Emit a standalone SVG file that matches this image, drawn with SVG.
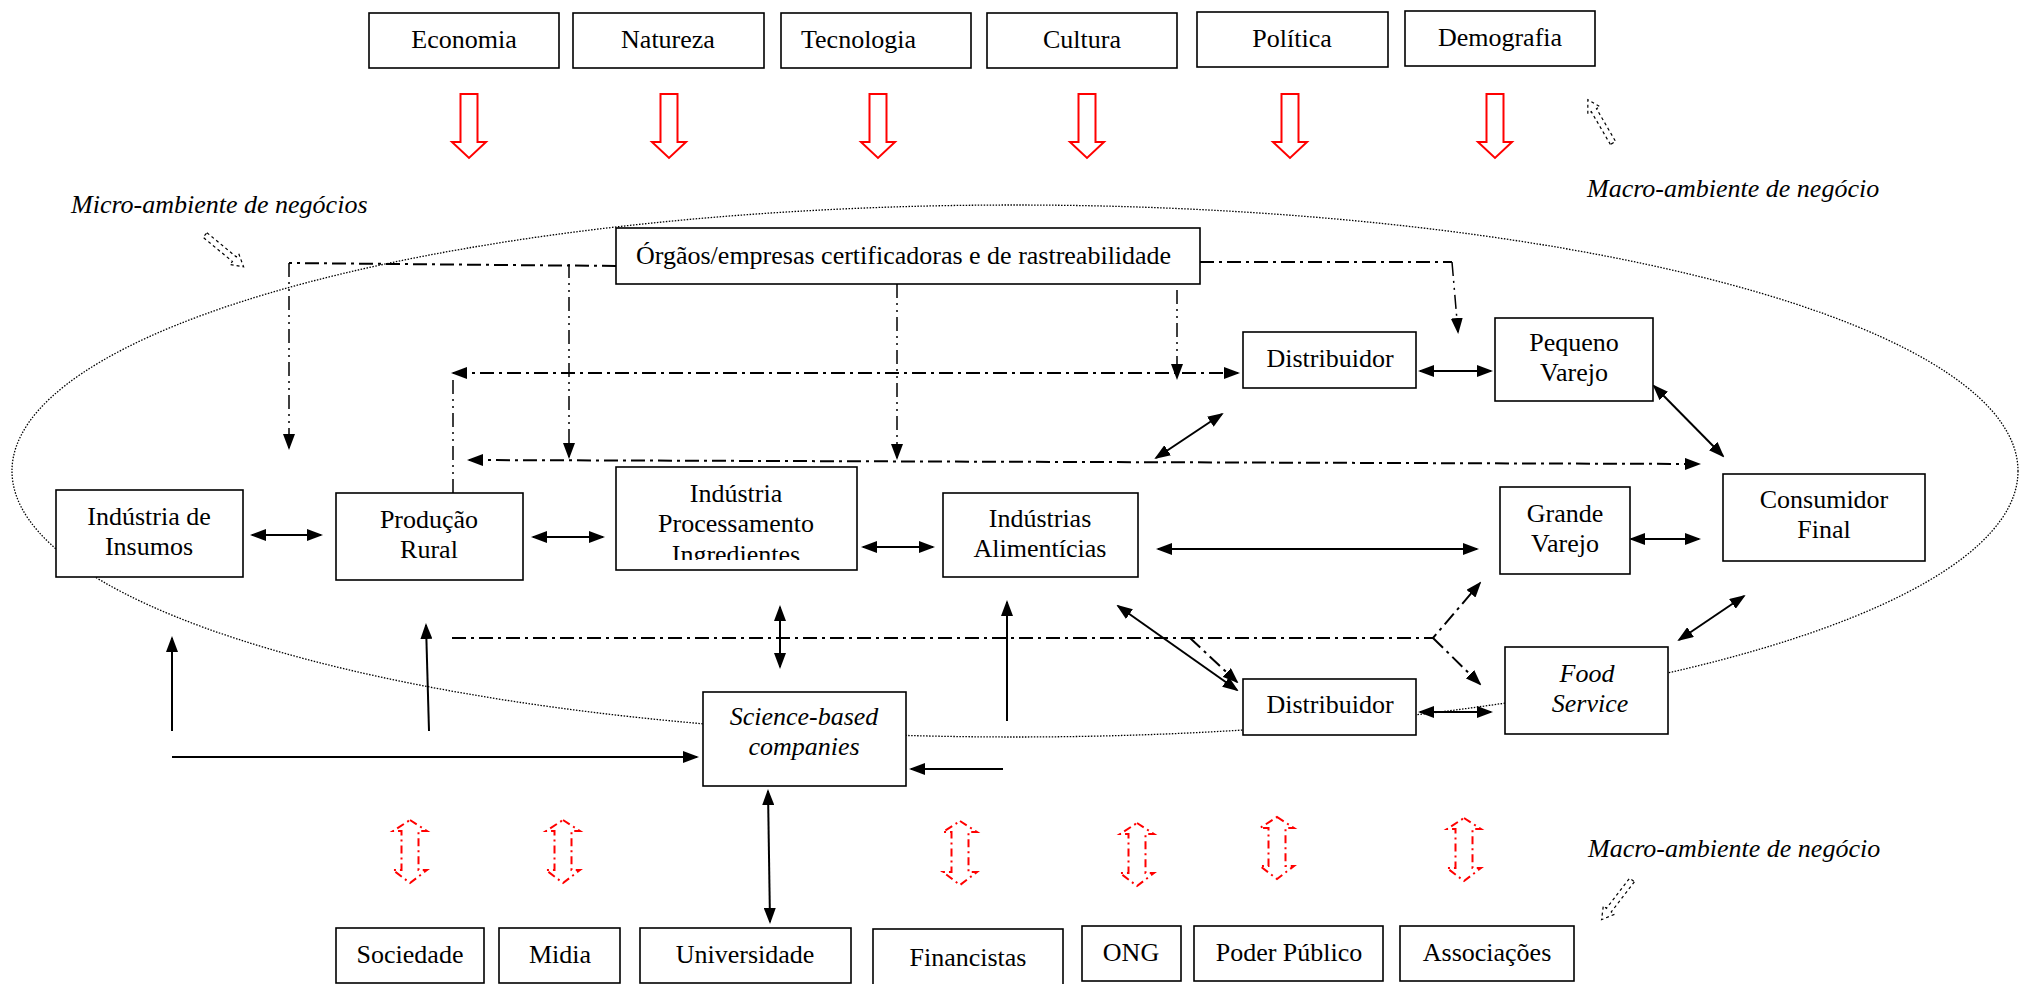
<svg xmlns="http://www.w3.org/2000/svg" width="2033" height="984" viewBox="0 0 2033 984">
  <style>
    text { font-family: "Liberation Serif", "Times New Roman", serif; font-size: 26px; fill: #000; }
    .c { text-anchor: middle; }
    .it { font-style: italic; }
    .box { fill: #fff; stroke: #000; stroke-width: 1.6; }
    .solid { fill: none; stroke: #000; stroke-width: 2; }
    .dd { fill: none; stroke: #000; stroke-width: 2; stroke-dasharray: 14 5 3 5; }
    .dv { fill: none; stroke: #000; stroke-width: 1.5; stroke-dasharray: 14 5 2 5 2 5; }
    .env { fill: none; stroke: #000; stroke-width: 1.3; stroke-dasharray: 1.5 1.5; }
    .force { fill: none; stroke: #f00; stroke-width: 2; }
    .inter { fill: none; stroke: #f00; stroke-width: 2; stroke-dasharray: 8 4 2 4; }
    .hint { fill: none; stroke: #000; stroke-width: 1.2; stroke-dasharray: 3 3; }
  </style>
  <defs>
    <marker id="ah" viewBox="0 0 16 12" refX="14" refY="6" markerWidth="16" markerHeight="12" markerUnits="userSpaceOnUse" orient="auto-start-reverse">
      <path d="M0,0 L16,6 L0,12 z" fill="#000"/>
    </marker>
    <clipPath id="clipProc">
      <rect x="617" y="468" width="239" height="92"/>
    </clipPath>
    <!-- hollow outline arrow pointing down, centred on x=0 -->
    <polygon id="downArrow" points="-8.5,94 8.5,94 8.5,142 17,142 0,158 -17,142 -8.5,142"/>
    <!-- small hollow pointer arrow along +x -->
    <polygon id="pointer" points="0,-3 38,-3 38,-7 50,0 38,7 38,3 0,3"/>
  </defs>

  <!-- business environment boundary -->
  <ellipse class="env" cx="1015" cy="471" rx="1003" ry="266"/>

  <!-- environment labels -->
  <text class="it" x="71" y="213">Micro-ambiente de negócios</text>
  <text class="it" x="1587" y="197">Macro-ambiente de negócio</text>
  <text class="it" x="1588" y="857">Macro-ambiente de negócio</text>
  <use href="#pointer" class="hint" transform="translate(205,235) rotate(39.5)"/>
  <use href="#pointer" class="hint" transform="translate(1613,143) rotate(-120.2)"/>
  <use href="#pointer" class="hint" transform="translate(1632,880) rotate(127.5)"/>

  <!-- macro forces pressing inward -->
  <g id="forceArrows">
    <use href="#downArrow" class="force" x="469"/>
    <use href="#downArrow" class="force" x="669"/>
    <use href="#downArrow" class="force" x="878"/>
    <use href="#downArrow" class="force" x="1087"/>
    <use href="#downArrow" class="force" x="1290"/>
    <use href="#downArrow" class="force" x="1495"/>
  </g>

  <!-- two-way influence of the institutional environment -->
  <g id="institutionArrows">
    <polygon class="inter" points="410,820 427,831 418.5,831 418.5,870 427,870 410,883 393,870 401.5,870 401.5,831 393,831"/>
    <polygon class="inter" points="563,820 580,831 571.5,831 571.5,870 580,870 563,883 546,870 554.5,870 554.5,831 546,831"/>
    <polygon class="inter" points="960,821 977,832 968.5,832 968.5,872 977,872 960,885 943,872 951.5,872 951.5,832 943,832"/>
    <polygon class="inter" points="1137,823 1154,834 1145.5,834 1145.5,873 1154,873 1137,886 1120,873 1128.5,873 1128.5,834 1120,834"/>
    <polygon class="inter" points="1277,817 1294,828 1285.5,828 1285.5,866 1294,866 1277,879 1260,866 1268.5,866 1268.5,828 1260,828"/>
    <polygon class="inter" points="1464,818 1481,829 1472.5,829 1472.5,868 1481,868 1464,881 1447,868 1455.5,868 1455.5,829 1447,829"/>
  </g>

  <!-- connectors -->
  <g id="connectors">
    <!-- product flows -->
    <line class="solid" x1="252" y1="535" x2="321" y2="535" marker-start="url(#ah)" marker-end="url(#ah)"/>
    <line class="solid" x1="533" y1="537" x2="603" y2="537" marker-start="url(#ah)" marker-end="url(#ah)"/>
    <line class="solid" x1="863" y1="547" x2="933" y2="547" marker-start="url(#ah)" marker-end="url(#ah)"/>
    <line class="solid" x1="1158" y1="549" x2="1477" y2="549" marker-start="url(#ah)" marker-end="url(#ah)"/>
    <line class="solid" x1="1631" y1="539" x2="1699" y2="539" marker-start="url(#ah)" marker-end="url(#ah)"/>
    <line class="solid" x1="1420" y1="371" x2="1491" y2="371" marker-start="url(#ah)" marker-end="url(#ah)"/>
    <line class="solid" x1="1654" y1="386" x2="1723" y2="456" marker-start="url(#ah)" marker-end="url(#ah)"/>
    <line class="solid" x1="1156" y1="458" x2="1222" y2="414" marker-start="url(#ah)" marker-end="url(#ah)"/>
    <line class="solid" x1="1420" y1="712" x2="1491" y2="712" marker-start="url(#ah)" marker-end="url(#ah)"/>
    <line class="solid" x1="1679" y1="640" x2="1744" y2="596" marker-start="url(#ah)" marker-end="url(#ah)"/>
    <line class="solid" x1="1118" y1="606" x2="1237" y2="690" marker-start="url(#ah)" marker-end="url(#ah)"/>
    <line class="solid" x1="780" y1="607" x2="780" y2="667" marker-start="url(#ah)" marker-end="url(#ah)"/>
    <line class="solid" x1="768" y1="791" x2="770" y2="922" marker-start="url(#ah)" marker-end="url(#ah)"/>
    <!-- technology flows -->
    <line class="solid" x1="172" y1="731" x2="172" y2="638" marker-end="url(#ah)"/>
    <line class="solid" x1="429" y1="731" x2="426" y2="625" marker-end="url(#ah)"/>
    <line class="solid" x1="1007" y1="721" x2="1007" y2="602" marker-end="url(#ah)"/>
    <line class="solid" x1="172" y1="757" x2="697" y2="757" marker-end="url(#ah)"/>
    <line class="solid" x1="1003" y1="769" x2="911" y2="769" marker-end="url(#ah)"/>
    <!-- certification and traceability flows -->
    <path class="dd" d="M616,266 L289,263"/>
    <path class="dv" d="M289,263 L289,448" marker-end="url(#ah)"/>
    <path class="dv" d="M569,264 L569,457" marker-end="url(#ah)"/>
    <path class="dv" d="M897,284 L897,458" marker-end="url(#ah)"/>
    <path class="dv" d="M1177,290 L1177,378" marker-end="url(#ah)"/>
    <path class="dd" d="M1200,262 L1452,262"/>
    <path class="dv" d="M1452,262 L1458,332" marker-end="url(#ah)"/>
    <!-- information flows -->
    <path class="dv" d="M453,493 L453,376"/>
    <line class="dd" x1="453" y1="373" x2="1238" y2="373" marker-start="url(#ah)" marker-end="url(#ah)"/>
    <line class="dd" x1="469" y1="460" x2="1699" y2="464" marker-start="url(#ah)" marker-end="url(#ah)"/>
    <path class="dd" d="M452,638 L1433,638 L1480,583" marker-end="url(#ah)"/>
    <path class="dd" d="M1433,638 L1480,684" marker-end="url(#ah)"/>
    <path class="dd" d="M1190,638 L1237,682" marker-end="url(#ah)"/>
  </g>

  <!-- macro-environment forces -->
  <g id="economia"><rect class="box" x="369" y="13" width="190" height="55"/><text class="c" x="464" y="48">Economia</text></g>
  <g id="natureza"><rect class="box" x="573" y="13" width="191" height="55"/><text class="c" x="668" y="48">Natureza</text></g>
  <g id="tecnologia"><rect class="box" x="781" y="13" width="190" height="55"/><text x="801" y="48">Tecnologia</text></g>
  <g id="cultura"><rect class="box" x="987" y="13" width="190" height="55"/><text class="c" x="1082" y="48">Cultura</text></g>
  <g id="politica"><rect class="box" x="1197" y="12" width="191" height="55"/><text class="c" x="1292" y="47">Política</text></g>
  <g id="demografia"><rect class="box" x="1405" y="11" width="190" height="55"/><text class="c" x="1500" y="46">Demografia</text></g>

  <!-- chain agents -->
  <g id="certificadoras"><rect class="box" x="616" y="228" width="584" height="56"/><text x="636" y="264">Órgãos/empresas certificadoras e de rastreabilidade</text></g>
  <g id="insumos"><rect class="box" x="56" y="490" width="187" height="87"/><text class="c" x="149" y="525">Indústria de</text><text class="c" x="149" y="555">Insumos</text></g>
  <g id="producao"><rect class="box" x="336" y="493" width="187" height="87"/><text class="c" x="429" y="528">Produção</text><text class="c" x="429" y="558">Rural</text></g>
  <g id="processamento"><rect class="box" x="616" y="467" width="241" height="103"/>
    <g clip-path="url(#clipProc)"><text class="c" x="736" y="502">Indústria</text><text class="c" x="736" y="532">Processamento</text><text class="c" x="736" y="563">Ingredientes</text></g></g>
  <g id="alimenticias"><rect class="box" x="943" y="493" width="195" height="84"/><text class="c" x="1040" y="527">Indústrias</text><text class="c" x="1040" y="557">Alimentícias</text></g>
  <g id="distribuidor1"><rect class="box" x="1243" y="332" width="173" height="56"/><text class="c" x="1330" y="367">Distribuidor</text></g>
  <g id="pequeno"><rect class="box" x="1495" y="318" width="158" height="83"/><text class="c" x="1574" y="351">Pequeno</text><text class="c" x="1574" y="381">Varejo</text></g>
  <g id="grande"><rect class="box" x="1500" y="487" width="130" height="87"/><text class="c" x="1565" y="522">Grande</text><text class="c" x="1565" y="552">Varejo</text></g>
  <g id="consumidor"><rect class="box" x="1723" y="474" width="202" height="87"/><text class="c" x="1824" y="508">Consumidor</text><text class="c" x="1824" y="538">Final</text></g>
  <g id="distribuidor2"><rect class="box" x="1243" y="679" width="173" height="56"/><text class="c" x="1330" y="713">Distribuidor</text></g>
  <g id="foodservice"><rect class="box" x="1505" y="647" width="163" height="87"/><text class="c it" x="1587" y="682">Food</text><text class="c it" x="1590" y="712">Service</text></g>
  <g id="science"><rect class="box" x="703" y="692" width="203" height="94"/><text class="c it" x="804" y="725">Science-based</text><text class="c it" x="804" y="755">companies</text></g>

  <!-- institutional environment -->
  <g id="sociedade"><rect class="box" x="336" y="928" width="148" height="55"/><text class="c" x="410" y="963">Sociedade</text></g>
  <g id="midia"><rect class="box" x="499" y="928" width="121" height="55"/><text class="c" x="560" y="963">Midia</text></g>
  <g id="universidade"><rect class="box" x="640" y="928" width="211" height="55"/><text class="c" x="745" y="963">Universidade</text></g>
  <g id="financistas"><rect class="box" x="873" y="929" width="190" height="62"/><text class="c" x="968" y="966">Financistas</text></g>
  <g id="ong"><rect class="box" x="1082" y="926" width="99" height="55"/><text class="c" x="1131" y="961">ONG</text></g>
  <g id="poder"><rect class="box" x="1194" y="926" width="189" height="55"/><text class="c" x="1289" y="961">Poder Público</text></g>
  <g id="associacoes"><rect class="box" x="1400" y="926" width="174" height="55"/><text class="c" x="1487" y="961">Associações</text></g>
</svg>
